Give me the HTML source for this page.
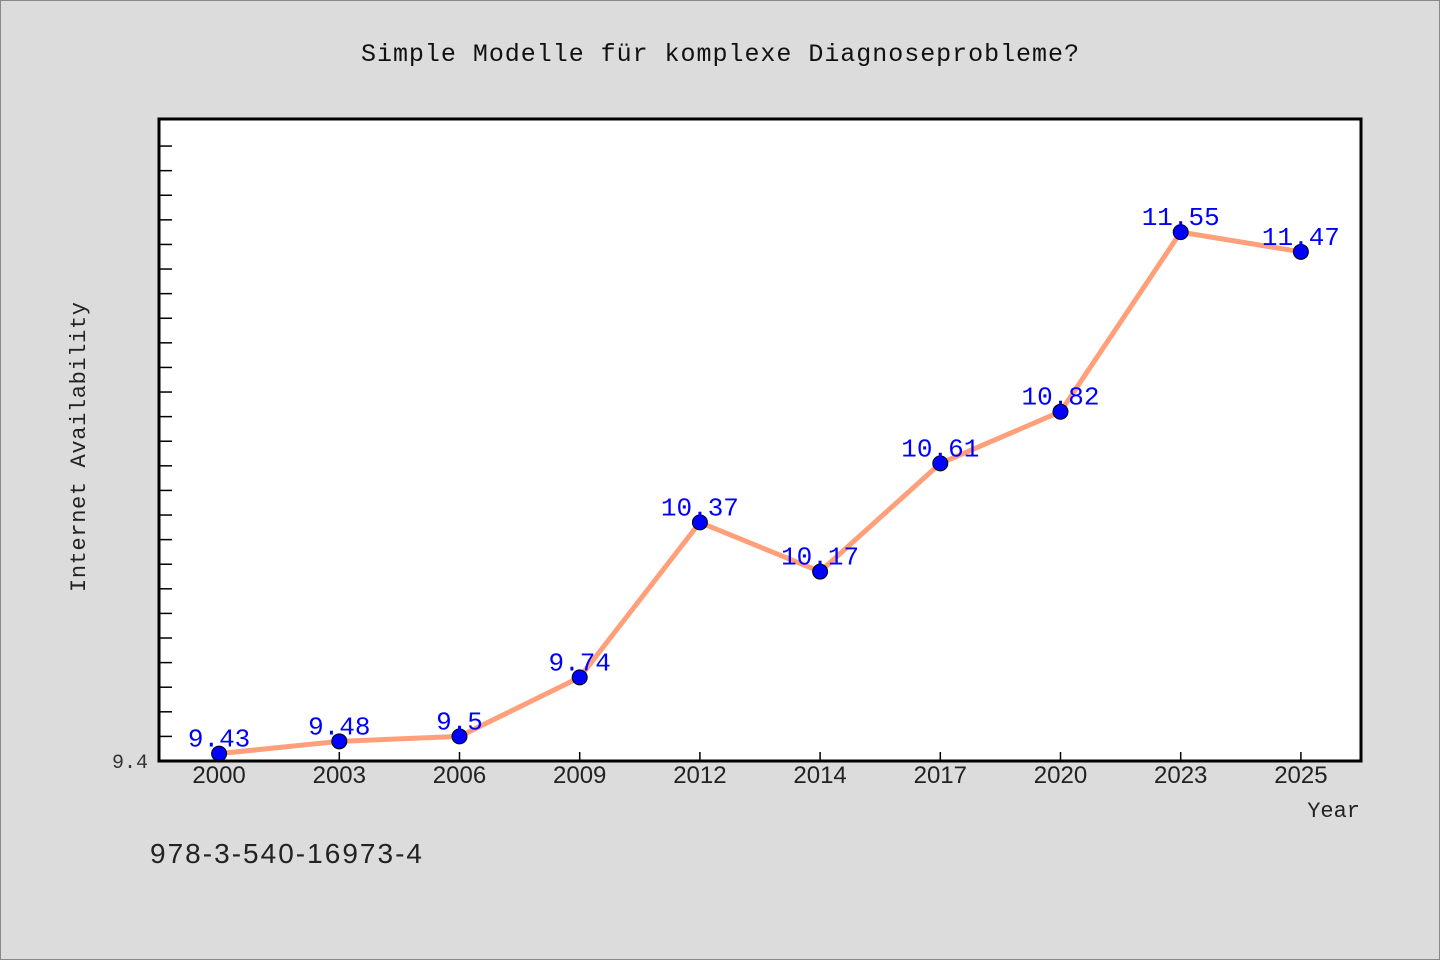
<!DOCTYPE html>
<html><head><meta charset="utf-8"><style>
html,body{margin:0;padding:0;background:#dcdcdc;}
svg{display:block;}
</style></head><body>
<svg width="1440" height="960" viewBox="0 0 1440 960" xmlns="http://www.w3.org/2000/svg" id="chart">
<rect x="0.5" y="0.5" width="1439" height="959" fill="#dcdcdc" stroke="#888"/>
<text x="720" y="61" text-anchor="middle" font-family="Liberation Mono, monospace" font-size="25" textLength="718" fill="#111">Simple Modelle für komplexe Diagnoseprobleme?</text>
<rect x="159" y="119" width="1202" height="642" fill="#fff"/>
<g id="ticks"></g>
<polyline id="line" fill="none" stroke="#ffa07a" stroke-width="5" stroke-linejoin="round"/>
<g id="points"></g>
<rect x="159" y="119" width="1202" height="642" fill="none" stroke="#000" stroke-width="3"/>
<text x="130" y="768" text-anchor="middle" font-family="Liberation Mono, monospace" font-size="20" fill="#333">9.4</text>
<text transform="translate(85,447) rotate(-90)" text-anchor="middle" font-family="Liberation Mono, monospace" font-size="22" textLength="290" fill="#222">Internet Availability</text>
<text x="1360" y="817" text-anchor="end" font-family="Liberation Mono, monospace" font-size="22" fill="#222">Year</text>
<text x="150" y="863" font-family="Liberation Sans, sans-serif" font-size="28" textLength="272" fill="#222">978-3-540-16973-4</text>
</svg>
<script>
const categories = ["2000","2003","2006","2009","2012","2014","2017","2020","2023","2025"];
const values = [9.43,9.48,9.5,9.74,10.37,10.17,10.61,10.82,11.55,11.47];
const valueLabels = ["9.43","9.48","9.5","9.74","10.37","10.17","10.61","10.82","11.55","11.47"];
const yMin = 9.4, yMax = 12.01;
const L=159,R=1361,T=119,B=761;
const NS="http://www.w3.org/2000/svg";
function xs(i){return L+(R-L)/categories.length*(i+0.5);}
function ys(v){return B-(v-yMin)/(yMax-yMin)*(B-T);}
const svg=document.getElementById('chart');
const tg=document.getElementById('ticks');
for(let k=1;k<=25;k++){
  const v=yMin+k*0.1; const y=ys(v);
  if(y<T+5)break;
  const l=document.createElementNS(NS,'line');
  l.setAttribute('x1',L);l.setAttribute('x2',L+13);l.setAttribute('y1',y);l.setAttribute('y2',y);
  l.setAttribute('stroke','#000');l.setAttribute('stroke-width','1.5');
  
  
  tg.appendChild(l);
}
categories.forEach((c,i)=>{
  const x=xs(i);
  const l=document.createElementNS(NS,'line');
  l.setAttribute('x1',x);l.setAttribute('x2',x);l.setAttribute('y1',B);l.setAttribute('y2',B-9);
  l.setAttribute('stroke','#000');l.setAttribute('stroke-width','1.5');
  
  
  tg.appendChild(l);
  const t=document.createElementNS(NS,'text');
  t.setAttribute('x',x);t.setAttribute('y',783);t.setAttribute('text-anchor','middle');
  t.setAttribute('font-family','Liberation Sans, sans-serif');t.setAttribute('font-size','24');t.setAttribute('fill','#222');
  t.textContent=c;
  
  
  svg.appendChild(t);
});
document.getElementById('line').setAttribute('points',values.map((v,i)=>xs(i)+','+ys(v)).join(' '));
const pg=document.getElementById('points');
values.forEach((v,i)=>{
  const c=document.createElementNS(NS,'circle');
  c.setAttribute('cx',xs(i));c.setAttribute('cy',ys(v));c.setAttribute('r','7.5');
  c.setAttribute('fill','#0000ff');c.setAttribute('stroke','#000');c.setAttribute('stroke-width','1');
  
  
  pg.appendChild(c);
  const t=document.createElementNS(NS,'text');
  t.setAttribute('x',xs(i));t.setAttribute('y',ys(v)-7);t.setAttribute('text-anchor','middle');
  t.setAttribute('font-family','Liberation Mono, monospace');t.setAttribute('font-size','26');t.setAttribute('fill','#0000ff');
  t.textContent=valueLabels[i];
  
  
  pg.appendChild(t);
});
</script>
</body></html>
